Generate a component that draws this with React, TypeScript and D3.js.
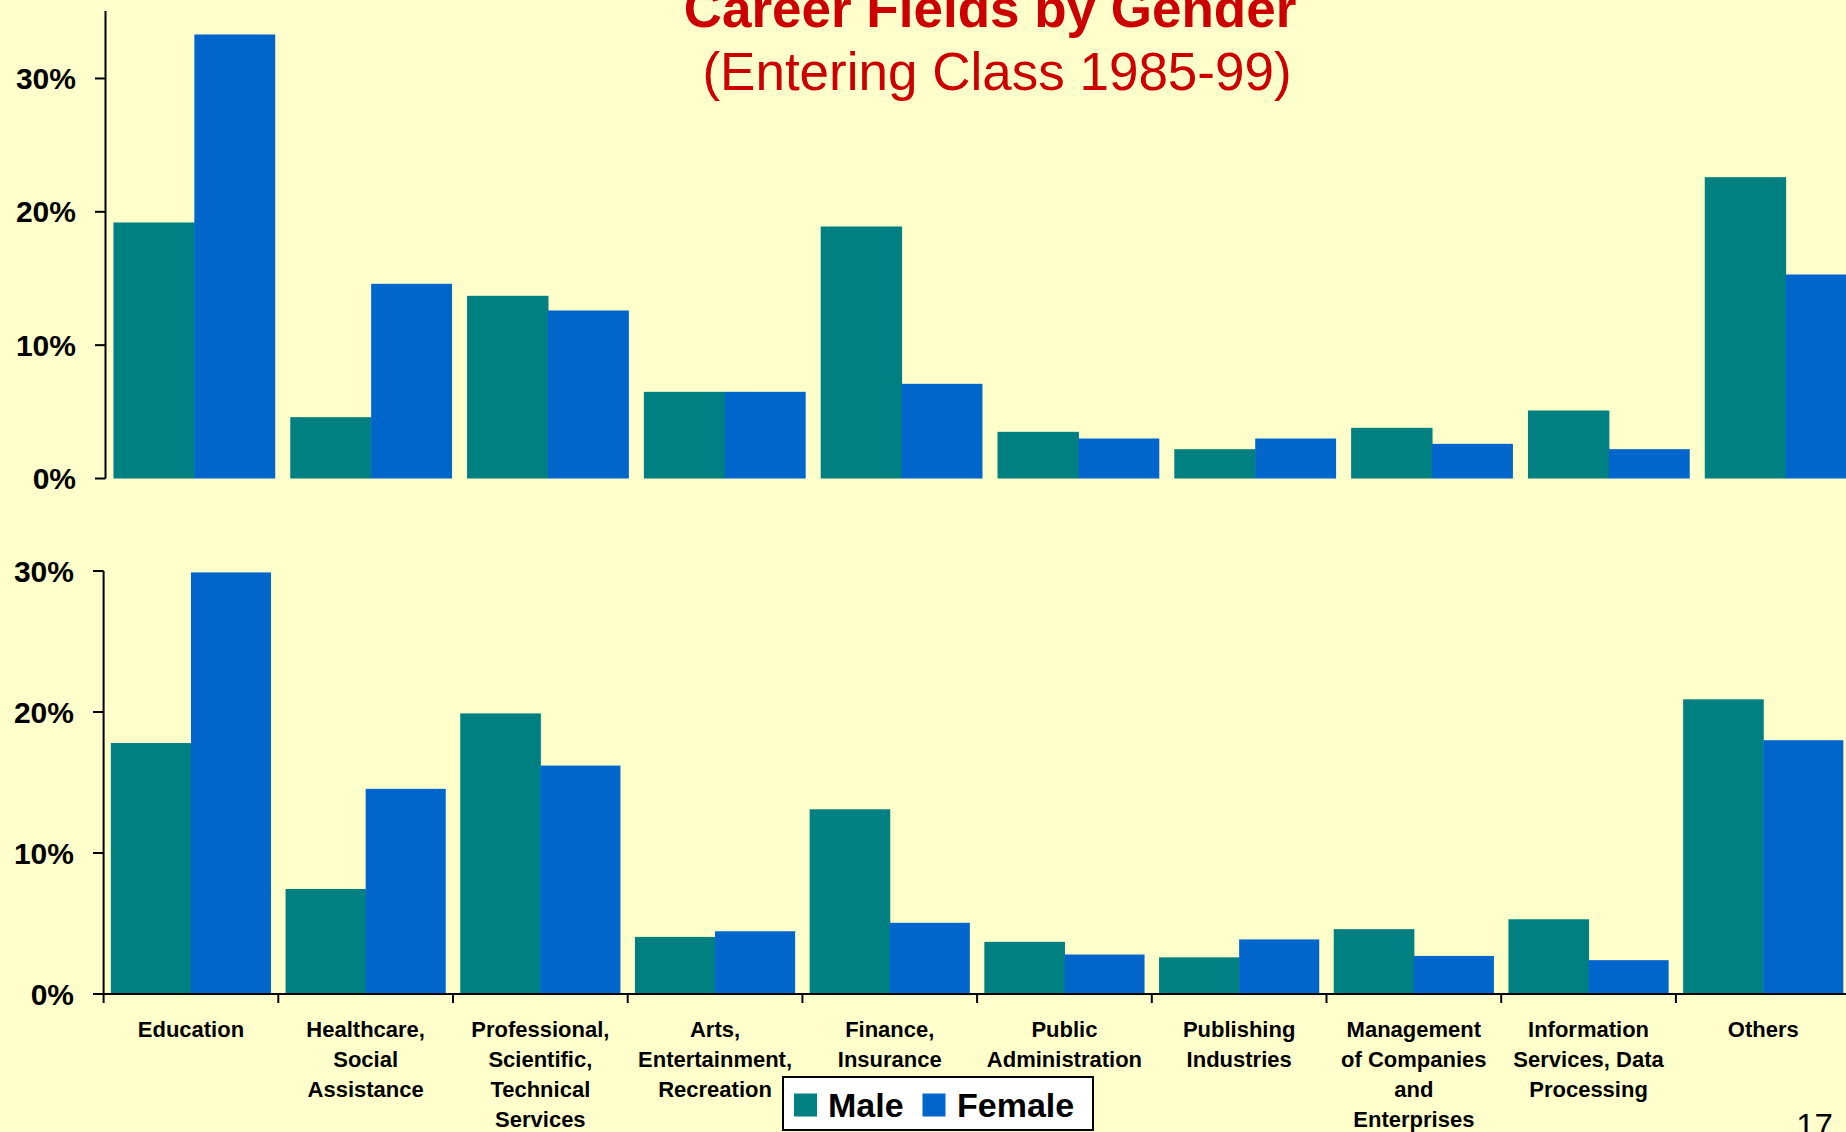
import React from "react";
import * as d3 from "d3";

const categories = [
  "Education",
  "Healthcare, Social Assistance",
  "Professional, Scientific, Technical Services",
  "Arts, Entertainment, Recreation",
  "Finance, Insurance",
  "Public Administration",
  "Publishing Industries",
  "Management of Companies and Enterprises",
  "Information Services, Data Processing",
  "Others",
];
const categoryLines = [
  ["Education"],
  ["Healthcare,", "Social", "Assistance"],
  ["Professional,", "Scientific,", "Technical", "Services"],
  ["Arts,", "Entertainment,", "Recreation"],
  ["Finance,", "Insurance"],
  ["Public", "Administration"],
  ["Publishing", "Industries"],
  ["Management", "of Companies", "and", "Enterprises"],
  ["Information", "Services, Data", "Processing"],
  ["Others"],
];
const series = ["Male", "Female"];
const topMale = [19.2, 4.6, 13.7, 6.5, 18.9, 3.5, 2.2, 3.8, 5.1, 22.6];
const topFemale = [33.3, 14.6, 12.6, 6.5, 7.1, 3.0, 3.0, 2.6, 2.2, 15.3];
const bottomMale = [17.8, 7.45, 19.9, 4.05, 13.1, 3.7, 2.6, 4.6, 5.3, 20.9];
const bottomFemale = [29.9, 14.55, 16.2, 4.45, 5.05, 2.8, 3.87, 2.7, 2.4, 18.0];
const yTicks = [0, 10, 20, 30];
const title = "Career Fields by Gender";
const subtitle = "(Entering Class 1985-99)";
const pageNumber = "17";

const COLORS = { Male: "#008080", Female: "#0066CC" };
const BG = "#FFFFCC";
const FONT = "'Liberation Sans', Arial, Helvetica, sans-serif";

function Panel({ male, female, yDomain, yRange, xRange, pInner, pOuter, axisTop, showXAxis, tickLeft, labelRight }) {
  const x = d3.scaleBand().domain(categories).range(xRange).paddingInner(pInner).paddingOuter(pOuter);
  const x1 = d3.scaleBand().domain(series).range([0, x.bandwidth()]);
  const y = d3.scaleLinear().domain(yDomain).range(yRange);
  const axisX = xRange[0];
  const step = x.step();
  return (
    <g>
      {categories.map((c, i) => (
        <g key={c} transform={`translate(${x(c)},0)`}>
          <rect x={x1("Male")} y={y(male[i])} width={x1.bandwidth() + 0.5} height={y(0) - y(male[i])} fill={COLORS.Male} />
          <rect x={x1("Female")} y={y(female[i])} width={x1.bandwidth()} height={y(0) - y(female[i])} fill={COLORS.Female} />
        </g>
      ))}
      <line x1={axisX} x2={axisX} y1={axisTop} y2={y(0)} stroke="#000" strokeWidth={2} />
      {yTicks.map((t) => (
        <g key={t}>
          <line x1={tickLeft} x2={axisX} y1={y(t)} y2={y(t)} stroke="#000" strokeWidth={2} />
          <text x={labelRight} y={y(t) + 10.5} textAnchor="end" fontFamily={FONT} fontWeight="bold" fontSize={30} fill="#000">
            {t}%
          </text>
        </g>
      ))}
      {showXAxis && (
        <g>
          <line x1={axisX} x2={1846} y1={y(0)} y2={y(0)} stroke="#000" strokeWidth={2} />
          {d3.range(0, 11).map((k) => (
            <line key={k} x1={axisX + k * step} x2={axisX + k * step} y1={y(0)} y2={y(0) + 9} stroke="#000" strokeWidth={2} />
          ))}
          {categories.map((c, i) => (
            <text key={c} textAnchor="middle" fontFamily={FONT} fontWeight="bold" fontSize={22} fill="#000">
              {categoryLines[i].map((ln, j) => (
                <tspan key={j} x={x(c) + x.bandwidth() / 2} y={1037.3 + j * 30}>
                  {ln}
                </tspan>
              ))}
            </text>
          ))}
        </g>
      )}
    </g>
  );
}

export default function App() {
  return (
    <svg width={1846} height={1132} style={{ position: "absolute", left: 0, top: 0, display: "block" }}>
      <rect x={0} y={0} width={1846} height={1132} fill={BG} />
      <text x={990} y={27} textAnchor="middle" fontFamily={FONT} fontWeight="bold" fontSize={53} fill="#CC0000">
        {title}
      </text>
      <text x={997} y={90} textAnchor="middle" fontFamily={FONT} fontSize={53} fill="#CC0000">
        {subtitle}
      </text>
      <Panel
        male={topMale}
        female={topFemale}
        yDomain={[0, 35]}
        yRange={[478.5, 11.8]}
        xRange={[105.5, 1874.5]}
        pInner={0.085}
        pOuter={0.045}
        axisTop={11}
        showXAxis={false}
        tickLeft={95}
        labelRight={76}
      />
      <Panel
        male={bottomMale}
        female={bottomFemale}
        yDomain={[0, 30]}
        yRange={[994, 571]}
        xRange={[103.6, 1850.6]}
        pInner={0.083}
        pOuter={0.0415}
        axisTop={571}
        showXAxis={true}
        tickLeft={93}
        labelRight={74}
      />
      <g>
        <rect x={783} y={1077} width={310} height={53} fill="#FFFFFF" stroke="#000" strokeWidth={2} />
        <rect x={794} y={1093.5} width={23} height={23} fill={COLORS.Male} />
        <text x={828} y={1117} fontFamily={FONT} fontWeight="bold" fontSize={34} fill="#000">Male</text>
        <rect x={922.5} y={1093.5} width={23} height={23} fill={COLORS.Female} />
        <text x={957} y={1117} fontFamily={FONT} fontWeight="bold" fontSize={34} fill="#000">Female</text>
      </g>
      <text x={1814.5} y={1137} textAnchor="middle" fontFamily={FONT} fontSize={33} fill="#000">
        {pageNumber}
      </text>
    </svg>
  );
}
